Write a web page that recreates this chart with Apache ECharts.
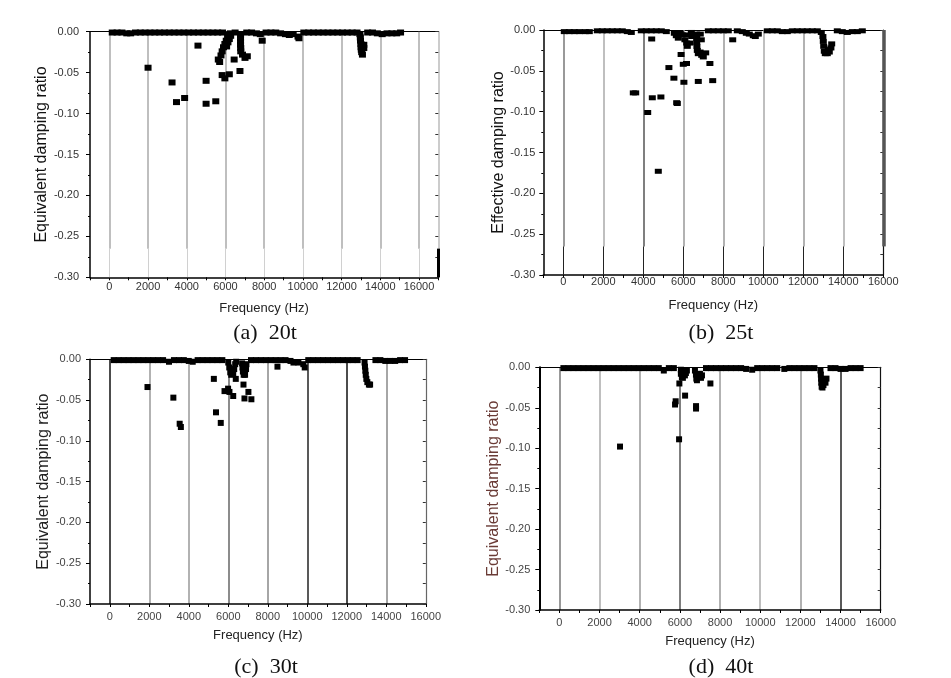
<!DOCTYPE html>
<html><head><meta charset="utf-8">
<script src="https://cdn.jsdelivr.net/npm/echarts@6/dist/echarts.min.js"></script>
<style>html,body{margin:0;padding:0;background:#fff}#c{width:951px;height:678px}</style>
</head><body><div id="c"></div>
<script>
// ---------- data ----------
const panelCaptions = ['(a)  20t', '(b)  25t', '(c)  30t', '(d)  40t'];
const yNames = ['Equivalent damping ratio', 'Effective damping ratio', 'Equivalent damping ratio', 'Equivalent damping ratio'];
const xName = 'Frequency (Hz)';
const freqMin = -1000;
const freqMax = [17000, 16000, 16000, 16000];
const freqTicks = [0, 2000, 4000, 6000, 8000, 10000, 12000, 14000, 16000];
const ratioMin = -0.30;
const ratioMax = 0;

// [frequency (Hz), damping ratio] – modes close to zero (the dark band at the top)
const band20t = [[150,-0.001],[400,-0.001],[650,-0.001],[900,-0.002],[1100,-0.002],[1350,-0.001],[1600,-0.001],[1850,-0.001],[2100,-0.001],[2350,-0.001],[2600,-0.001],[2850,-0.001],[3100,-0.001],[3350,-0.001],[3600,-0.001],[3850,-0.001],[4100,-0.001],[4350,-0.001],[4600,-0.001],[4850,-0.001],[5100,-0.001],[5350,-0.001],[5600,-0.001],[5850,-0.001],[6500,-0.001],[7100,-0.001],[7350,-0.001],[7600,-0.002],[8100,-0.001],[8350,-0.001],[8600,-0.001],[8850,-0.002],[9100,-0.003],[9300,-0.004],[9500,-0.003],[9750,-0.006],[9800,-0.008],[10050,-0.001],[10300,-0.001],[10550,-0.001],[10800,-0.001],[11050,-0.001],[11300,-0.001],[11550,-0.001],[11800,-0.001],[12050,-0.001],[12300,-0.001],[12550,-0.001],[12800,-0.001],[13350,-0.001],[13600,-0.001],[13850,-0.002],[14100,-0.003],[14350,-0.002],[14600,-0.002],[14850,-0.002],[15050,-0.001]];
const modes20t = [[2000,-0.044],[3240,-0.062],[3470,-0.086],[3890,-0.081],[4580,-0.017],[5000,-0.060],[5000,-0.088],[5500,-0.085],[5630,-0.034],[5700,-0.037],[5770,-0.029],[5830,-0.024],[5900,-0.019],[5970,-0.015],[6040,-0.011],[6110,-0.007],[6180,-0.004],[6260,-0.002],[6060,-0.018],[6130,-0.013],[6200,-0.009],[6270,-0.005],[5830,-0.053],[5970,-0.057],[6200,-0.052],[6450,-0.034],[6750,-0.048],[6780,-0.004],[6780,-0.008],[6780,-0.012],[6780,-0.016],[6790,-0.020],[6790,-0.024],[6880,-0.028],[7010,-0.032],[7130,-0.030],[7800,-0.003],[7900,-0.011],[12950,-0.003],[12970,-0.007],[12980,-0.011],[13000,-0.015],[13010,-0.019],[13020,-0.022],[13040,-0.025],[13080,-0.028],[13150,-0.016],[13150,-0.020]];

const band25t = [[50,-0.002],[300,-0.002],[550,-0.002],[800,-0.002],[1100,-0.002],[1300,-0.002],[1700,-0.001],[1950,-0.001],[2200,-0.001],[2450,-0.001],[2700,-0.001],[2950,-0.001],[3200,-0.002],[3400,-0.003],[3900,-0.001],[4150,-0.001],[4400,-0.001],[4650,-0.001],[4900,-0.001],[5150,-0.002],[7250,-0.001],[7500,-0.001],[7750,-0.001],[8000,-0.001],[8250,-0.001],[8700,-0.001],[8950,-0.002],[9150,-0.004],[9300,-0.005],[9500,-0.007],[9600,-0.008],[9750,-0.005],[10200,-0.001],[10450,-0.001],[10700,-0.001],[10950,-0.002],[11200,-0.002],[11450,-0.001],[11700,-0.001],[11950,-0.001],[12200,-0.001],[12450,-0.001],[12700,-0.001],[13700,-0.001],[13950,-0.002],[14200,-0.003],[14450,-0.002],[14700,-0.002],[14950,-0.001]];
const modes25t = [[4420,-0.011],[3500,-0.077],[3620,-0.077],[4220,-0.101],[4450,-0.083],[4880,-0.082],[4750,-0.173],[5280,-0.046],[5530,-0.059],[5670,-0.089],[5700,-0.090],[5890,-0.030],[6000,-0.042],[6160,-0.041],[6030,-0.064],[6750,-0.063],[7470,-0.062],[7330,-0.041],[7120,-0.028],[7000,-0.033],[8470,-0.012],[5550,-0.004],[5650,-0.007],[5750,-0.010],[5850,-0.004],[5950,-0.006],[6080,-0.012],[6170,-0.006],[6170,-0.016],[6200,-0.020],[6330,-0.016],[6420,-0.008],[6400,-0.003],[6670,-0.005],[6670,-0.010],[6670,-0.015],[6680,-0.020],[6700,-0.025],[6750,-0.029],[6840,-0.027],[6920,-0.031],[6850,-0.005],[6900,-0.012],[12900,-0.003],[12980,-0.008],[13000,-0.014],[13020,-0.020],[13050,-0.026],[13100,-0.029],[13200,-0.029],[13300,-0.027],[13380,-0.022],[13420,-0.017],[13250,-0.024]];

const band30t = [[200,-0.001],[450,-0.001],[700,-0.001],[950,-0.001],[1200,-0.001],[1450,-0.001],[1700,-0.001],[1950,-0.001],[2200,-0.001],[2450,-0.001],[2700,-0.001],[3000,-0.003],[3250,-0.001],[3500,-0.001],[3750,-0.001],[4000,-0.002],[4200,-0.003],[4450,-0.001],[4700,-0.001],[4950,-0.001],[5200,-0.001],[5450,-0.001],[5700,-0.001],[7150,-0.001],[7400,-0.001],[7650,-0.001],[7900,-0.001],[8150,-0.001],[8400,-0.001],[8650,-0.001],[8900,-0.001],[9150,-0.002],[9300,-0.004],[9550,-0.004],[9800,-0.006],[10050,-0.001],[10300,-0.001],[10550,-0.001],[10800,-0.001],[11050,-0.001],[11300,-0.001],[11550,-0.001],[11800,-0.001],[12050,-0.001],[12300,-0.001],[12550,-0.001],[13450,-0.001],[13700,-0.001],[13950,-0.002],[14200,-0.002],[14450,-0.002],[14700,-0.001],[14950,-0.001]];
const modes30t = [[1910,-0.034],[3220,-0.047],[3540,-0.079],[3600,-0.083],[5270,-0.024],[5380,-0.065],[5620,-0.078],[5810,-0.039],[5990,-0.036],[6060,-0.040],[6250,-0.045],[6380,-0.024],[6770,-0.031],[6820,-0.048],[7020,-0.040],[7170,-0.049],[8490,-0.009],[9870,-0.010],[6000,-0.004],[6050,-0.010],[6100,-0.016],[6150,-0.019],[6250,-0.018],[6300,-0.012],[6350,-0.006],[6400,-0.003],[6700,-0.005],[6720,-0.010],[6740,-0.015],[6780,-0.019],[6850,-0.019],[6900,-0.012],[6920,-0.006],[12900,-0.004],[12920,-0.009],[12940,-0.014],[12960,-0.019],[12990,-0.024],[13040,-0.028],[13120,-0.031],[13180,-0.031]];

const band40t = [[200,-0.001],[450,-0.001],[700,-0.001],[950,-0.001],[1200,-0.001],[1450,-0.001],[1700,-0.001],[1950,-0.001],[2200,-0.001],[2450,-0.001],[2700,-0.001],[2950,-0.001],[3200,-0.001],[3450,-0.001],[3700,-0.001],[3950,-0.001],[4200,-0.001],[4450,-0.001],[4700,-0.001],[4950,-0.001],[5450,-0.001],[5700,-0.001],[7300,-0.001],[7550,-0.001],[7800,-0.001],[8050,-0.001],[8300,-0.001],[8550,-0.001],[8800,-0.001],[9050,-0.001],[9300,-0.002],[9850,-0.001],[10100,-0.001],[10350,-0.001],[10600,-0.001],[10850,-0.001],[11450,-0.001],[11700,-0.001],[11950,-0.001],[12200,-0.001],[12450,-0.001],[12700,-0.001],[13500,-0.001],[13750,-0.001],[14000,-0.002],[14250,-0.002],[14500,-0.001],[14750,-0.001],[15000,-0.001]];
const modes40t = [[3020,-0.098],[5960,-0.089],[5760,-0.046],[5790,-0.042],[6260,-0.035],[5975,-0.020],[6805,-0.048],[6805,-0.051],[7520,-0.020],[6050,-0.003],[6050,-0.008],[6100,-0.012],[6150,-0.013],[6250,-0.010],[6300,-0.007],[6350,-0.004],[6250,-0.004],[6750,-0.004],[6800,-0.009],[6820,-0.014],[6850,-0.016],[6950,-0.012],[7000,-0.008],[7050,-0.013],[7100,-0.010],[5200,-0.004],[9600,-0.003],[11200,-0.002],[13000,-0.004],[13020,-0.009],[13030,-0.014],[13040,-0.019],[13060,-0.024],[13150,-0.022],[13250,-0.019],[13300,-0.014],[13100,-0.025]];

const panelData = [band20t.concat(modes20t), band25t.concat(modes25t), band30t.concat(modes30t), band40t.concat(modes40t)];

// ---------- layout & style ----------
const T = 'rgba(0,0,0,0)';
const BREAK = -0.265; // level where the scanned grid lines change style in (a) and (b)
const layout = [
  {grid:{left:90, top:31.7, width:348.3, height:245.6}, cap:[265,333],
   major:['#aaa','#aaa','#aaa','#aaa','#aaa','#aaa','#aaa','#aaa','#aaa'],
   split:{lowColor:'#d0d0d0', lowWidth:1, edge:{x:17000, upper:null, lower:{color:'#000', width:3}}},
   right:{color:'#bbb', width:1.5}, leftW:1.5, yLM:11, xLM:4, yNG:36, xNG:25, sym:[7,6], nameColor:'#111', labColor:'#333'},
  {grid:{left:543.3, top:30, width:340, height:245}, cap:[721,333],
   major:['#777','#aaa','#555','#999','#999','#aaa','#999','#aaa',T],
   split:{lowColor:'#222', lowWidth:1, edge:{x:16000, upper:{color:'#555', width:3.5}, lower:null}},
   right:{color:'#111', width:1.2}, leftW:1.5, yLM:8, xLM:1, yNG:36, xNG:24, sym:[7,5], nameColor:'#111', labColor:'#333'},
  {grid:{left:90, top:359.3, width:335.8, height:244.7}, cap:[266,667],
   major:['#111','#999','#999','#666','#888','#222','#111','#888',T], split:null,
   right:{color:'#666', width:1.2}, leftW:1.5, yLM:9, xLM:7, yNG:36, xNG:25, sym:[6,6], nameColor:'#222', labColor:'#444'},
  {grid:{left:539.3, top:367.3, width:341.4, height:242.7}, cap:[721,667],
   major:['#777','#aaa','#999','#555','#999','#aaa','#999','#222',T], split:null,
   right:{color:'#111', width:1.2}, leftW:2, yLM:9, xLM:7, yNG:37, xNG:25, sym:[6,6], nameColor:'#6a3b36', labColor:'#444'}
];
const FONT = 'Liberation Sans';

const option = {animation:false, backgroundColor:'#fff', grid:[], xAxis:[], yAxis:[], series:[], graphic:[]};
layout.forEach((p, i) => {
  option.grid.push(Object.assign({containLabel:false, outerBoundsMode:'none'}, p.grid));
  const colors = [];
  for (let v = freqMin; v <= freqMax[i]; v += 1000) {
    const k = freqTicks.indexOf(v);
    colors.push(!p.split && k >= 0 && k < p.major.length ? p.major[k] : T);
  }
  option.xAxis.push({
    type:'value', gridIndex:i, position:'bottom', min:freqMin, max:freqMax[i], interval:1000,
    name:xName, nameLocation:'middle', nameGap:p.xNG,
    nameTextStyle:{fontFamily:FONT, fontSize:13, color:'#222'},
    axisLine:{onZero:false, lineStyle:{color:'#000', width:1.5}},
    axisTick:{show:true, length:3, lineStyle:{color:'#000', width:1}},
    axisLabel:{margin:p.xLM, fontFamily:FONT, fontSize:11, color:p.labColor,
      formatter:v => freqTicks.indexOf(v) >= 0 ? String(v) : ''},
    splitLine:{show:true, lineStyle:{color:colors, width:1.5}}
  });
  option.xAxis.push({
    type:'value', gridIndex:i, position:'top', min:freqMin, max:freqMax[i],
    axisLine:{onZero:false, lineStyle:{color:'#000', width:1}}, axisTick:{show:false}, axisLabel:{show:false}, splitLine:{show:false}
  });
  option.yAxis.push({
    type:'value', gridIndex:i, position:'left', min:ratioMin, max:ratioMax, interval:0.05,
    name:yNames[i], nameLocation:'middle', nameRotate:90, nameGap:p.yNG,
    nameTextStyle:{fontFamily:FONT, fontSize:16, color:p.nameColor},
    axisLine:{onZero:false, lineStyle:{color:'#000', width:p.leftW}},
    axisTick:{show:true, length:4, lineStyle:{color:'#000'}},
    minorTick:{show:true, splitNumber:2, length:2, lineStyle:{color:'#000'}},
    axisLabel:{margin:p.yLM, fontFamily:FONT, fontSize:11, color:p.labColor,
      formatter:v => Math.abs(v) < 1e-9 ? '0.00' : v.toFixed(2)},
    splitLine:{show:false}
  });
  option.yAxis.push({
    type:'value', gridIndex:i, position:'right', min:ratioMin, max:ratioMax, interval:0.025,
    axisLine:{onZero:false, lineStyle:{color:p.right.color, width:p.right.width}},
    axisTick:{show:true, inside:true, length:3, lineStyle:{color:'#333'}},
    axisLabel:{show:false}, splitLine:{show:false}
  });
  const s = {
    type:'scatter', xAxisIndex:2*i, yAxisIndex:2*i, data:panelData[i], symbol:'rect', symbolSize:p.sym,
    itemStyle:{color:'#000', opacity:1}, clip:true, silent:true, z:5
  };
  if (p.split) {
    // grid lines drawn in two pieces, like the scanned figure
    const segs = [];
    freqTicks.forEach((f, k) => {
      if (f >= freqMax[i]) return;
      segs.push([{coord:[f, ratioMax], lineStyle:{color:p.major[k], width:1.5, type:'solid'}}, {coord:[f, BREAK]}]);
      segs.push([{coord:[f, BREAK], lineStyle:{color:p.split.lowColor, width:p.split.lowWidth, type:'solid'}}, {coord:[f, ratioMin]}]);
    });
    const e = p.split.edge;
    if (e.upper) segs.push([{coord:[e.x, ratioMax], lineStyle:Object.assign({type:'solid'}, e.upper)}, {coord:[e.x, BREAK]}]);
    if (e.lower) segs.push([{coord:[e.x, BREAK], lineStyle:Object.assign({type:'solid'}, e.lower)}, {coord:[e.x, ratioMin]}]);
    s.markLine = {silent:true, symbol:['none','none'], label:{show:false}, animation:false, z:1, data:segs};
  }
  option.series.push(s);
  option.graphic.push({
    type:'text', x:p.cap[0], y:p.cap[1],
    style:{text:panelCaptions[i], font:'22px "Liberation Serif"', fill:'#111',
      textAlign:'center', textVerticalAlign:'middle', align:'center', verticalAlign:'middle'}
  });
});

const chart = echarts.init(document.getElementById('c'), null, {renderer:'canvas'});
chart.setOption(option);
</script>
</body></html>
